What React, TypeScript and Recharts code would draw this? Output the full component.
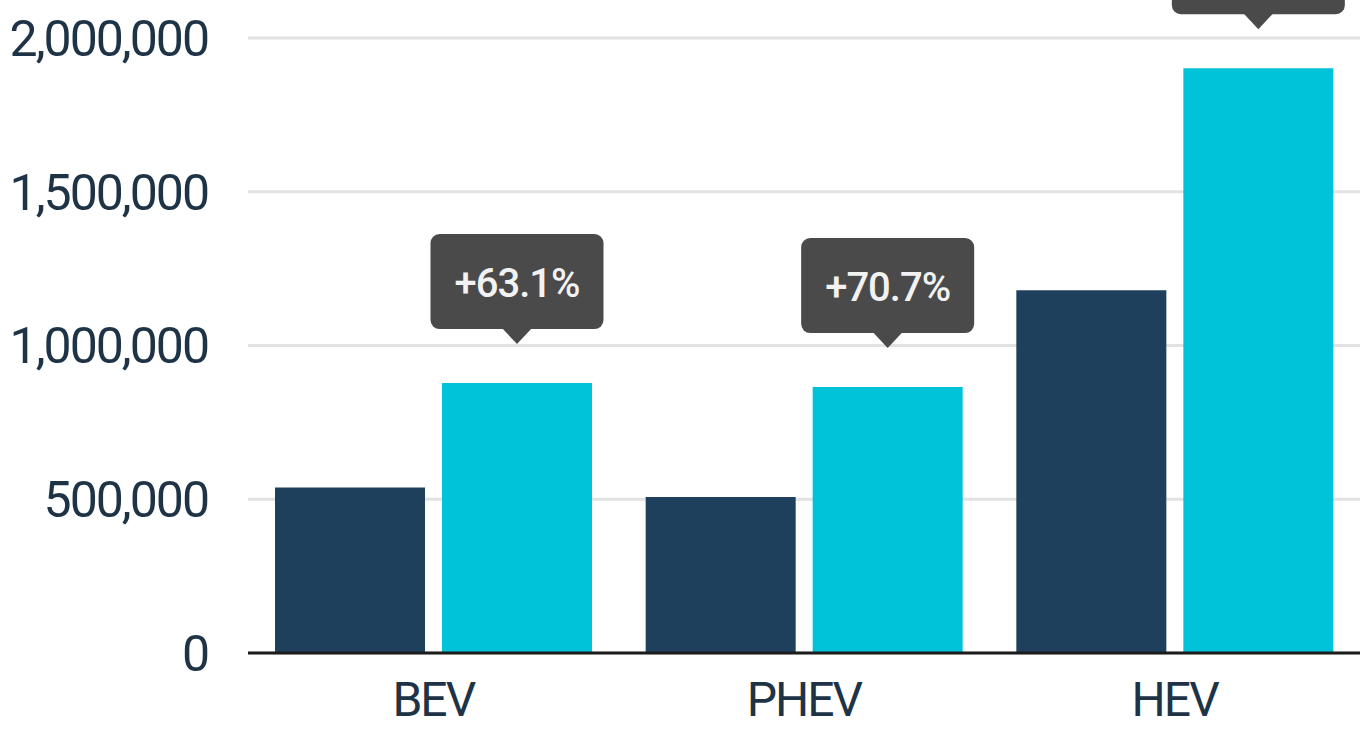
import React from "react";
import {
  BarChart, Bar, XAxis, YAxis, CartesianGrid, LabelList,
} from "recharts";

const CATEGORIES = ["BEV", "PHEV", "HEV"];
const PREV_SALES = [538000, 507000, 1180000];
const CURR_SALES = [878000, 865000, 1902000];
const GROWTH_LABELS = ["+63.1%", "+70.7%", "+61.2%"];
const Y_TICKS = [0, 500000, 1000000, 1500000, 2000000];

const data = CATEGORIES.map((c, i) => ({
  name: c,
  prev: PREV_SALES[i],
  curr: CURR_SALES[i],
  growth: GROWTH_LABELS[i],
}));

const fmt = (v: number) => new Intl.NumberFormat("en-US").format(v);

// speech-bubble style tag above the current-year bar
const GrowthTag = (props: any) => {
  const { x, y, width, value } = props;
  const cx = Number(x) + Number(width) / 2;
  const tipY = Number(y) - 39;
  const boxW = 173;
  const boxH = 95;
  const ptrH = 15;
  const boxBottom = tipY - ptrH;
  const boxTop = boxBottom - boxH;
  return (
    <g>
      <rect x={cx - boxW / 2} y={boxTop} width={boxW} height={boxH} rx={9} ry={9} fill="#4a4a4a" />
      <path d={`M${cx - 15},${boxBottom - 1} L${cx + 15},${boxBottom - 1} L${cx},${tipY} Z`} fill="#4a4a4a" />
      <text
        x={cx}
        y={boxTop + boxH / 2 + 2}
        textAnchor="middle"
        dominantBaseline="central"
        fill="#f2f2f2"
        fontFamily="Roboto"
        fontWeight={500}
        fontSize={40}
        letterSpacing={-1}
      >
        {value}
      </text>
    </g>
  );
};

export default function App() {
  const yTickStyle = { fontSize: 50, fill: "#1e3446", fontFamily: "Roboto", letterSpacing: -2 };
  const xTickStyle = { fontSize: 48, fill: "#1e3446", fontFamily: "Roboto", letterSpacing: -2 };
  return (
    <div style={{ position: "absolute", left: 0, top: 0, width: 1360, height: 729, background: "#fff" }}>
      <BarChart
        width={1360}
        height={729}
        data={data}
        margin={{ top: 38, right: 0, left: 0, bottom: 0 }}
        barCategoryGap={27}
        barGap={17}
      >
        <CartesianGrid vertical={false} stroke="#e2e2e2" strokeWidth={3} />
        <XAxis
          dataKey="name"
          height={76}
          tickLine={false}
          tickSize={0}
          tickMargin={29}
          axisLine={{ stroke: "#1c1c1c", strokeWidth: 3 }}
          tick={xTickStyle}
        />
        <YAxis
          width={248}
          domain={[0, 2000000]}
          ticks={Y_TICKS}
          tickFormatter={fmt}
          axisLine={false}
          tickLine={false}
          tickSize={0}
          tickMargin={40}
          tick={yTickStyle}
        />
        <Bar dataKey="prev" fill="#1e405c" isAnimationActive={false} />
        <Bar dataKey="curr" fill="#00c3da" isAnimationActive={false}>
          <LabelList dataKey="growth" content={GrowthTag} />
        </Bar>
      </BarChart>
    </div>
  );
}
